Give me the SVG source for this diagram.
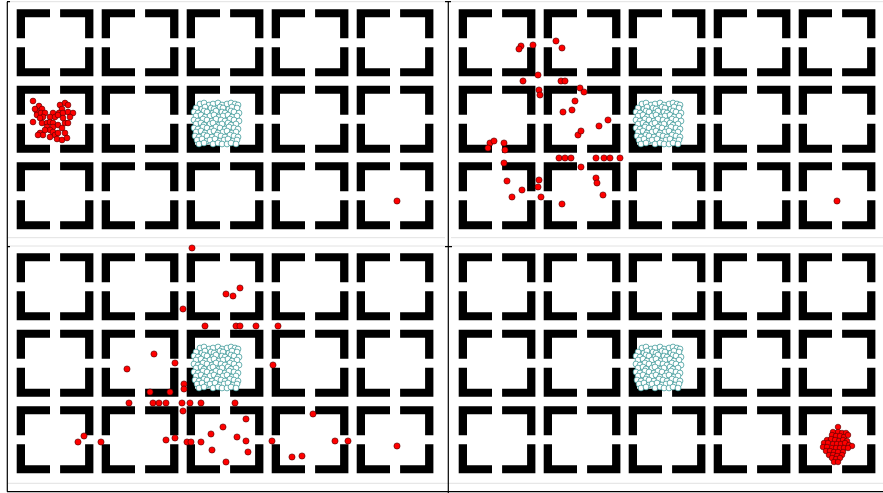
<svg xmlns="http://www.w3.org/2000/svg" xmlns:xlink="http://www.w3.org/1999/xlink" width="883" height="493" viewBox="0 0 883 493">
<style>
.wall{fill:#000}
.r{fill:#f00;stroke:#4a0000;stroke-width:.6}
.c{fill:#fff;stroke:#2b8f8f;stroke-width:.7}
.ax{stroke:#000;stroke-width:1.2;fill:none}
.fr{stroke:#e2e2e2;stroke-width:1;fill:none}
</style>
<defs>
<path id="room" class="wall" d="M0,0H33.3V8H8.3V29H0Z M43.4,0H76.7V29H68.4V8H43.4Z M0,38H8.3V59H33.3V67H0Z M68.4,38H76.7V67H43.4V59H68.4Z"/>
<g id="grid">
<use href="#room" x="16.7" y="9.3"/><use href="#room" x="101.7" y="9.3"/><use href="#room" x="186.7" y="9.3"/><use href="#room" x="271.7" y="9.3"/><use href="#room" x="356.7" y="9.3"/>
<use href="#room" x="16.7" y="85.8"/><use href="#room" x="101.7" y="85.8"/><use href="#room" x="186.7" y="85.8"/><use href="#room" x="271.7" y="85.8"/><use href="#room" x="356.7" y="85.8"/>
<use href="#room" x="16.7" y="162.3"/><use href="#room" x="101.7" y="162.3"/><use href="#room" x="186.7" y="162.3"/><use href="#room" x="271.7" y="162.3"/><use href="#room" x="356.7" y="162.3"/>
</g>
<g id="cyan" class="c">
<circle cx="7" cy="2" r="2.9"/><circle cx="11" cy="1" r="2.9"/><circle cx="16" cy="3" r="2.9"/><circle cx="20" cy="2" r="2.9"/><circle cx="25" cy="1" r="2.9"/><circle cx="29" cy="3" r="2.9"/><circle cx="34" cy="2" r="2.9"/><circle cx="38" cy="1" r="2.9"/><circle cx="42" cy="2" r="2.9"/><circle cx="45" cy="3" r="2.9"/>
<circle cx="3" cy="6" r="2.9"/><circle cx="9" cy="7" r="2.9"/><circle cx="12" cy="5" r="2.9"/><circle cx="18" cy="6" r="2.9"/><circle cx="21" cy="7" r="2.9"/><circle cx="27" cy="5" r="2.9"/><circle cx="30" cy="6" r="2.9"/><circle cx="36" cy="7" r="2.9"/><circle cx="39" cy="5" r="2.9"/><circle cx="44" cy="6" r="2.9"/>
<circle cx="1" cy="10" r="2.9"/><circle cx="5" cy="11" r="2.9"/><circle cx="11" cy="9" r="2.9"/><circle cx="14" cy="10" r="2.9"/><circle cx="20" cy="11" r="2.9"/><circle cx="23" cy="9" r="2.9"/><circle cx="29" cy="10" r="2.9"/><circle cx="32" cy="11" r="2.9"/><circle cx="38" cy="9" r="2.9"/><circle cx="41" cy="10" r="2.9"/><circle cx="46" cy="11" r="2.9"/>
<circle cx="3" cy="14" r="2.9"/><circle cx="8" cy="13" r="2.9"/><circle cx="12" cy="15" r="2.9"/><circle cx="17" cy="14" r="2.9"/><circle cx="21" cy="13" r="2.9"/><circle cx="26" cy="15" r="2.9"/><circle cx="30" cy="14" r="2.9"/><circle cx="35" cy="13" r="2.9"/><circle cx="39" cy="15" r="2.9"/><circle cx="44" cy="14" r="2.9"/>
<circle cx="1" cy="18" r="2.9"/><circle cx="5" cy="19" r="2.9"/><circle cx="10" cy="17" r="2.9"/><circle cx="14" cy="18" r="2.9"/><circle cx="19" cy="19" r="2.9"/><circle cx="23" cy="17" r="2.9"/><circle cx="28" cy="18" r="2.9"/><circle cx="32" cy="19" r="2.9"/><circle cx="37" cy="17" r="2.9"/><circle cx="41" cy="18" r="2.9"/><circle cx="46" cy="19" r="2.9"/>
<circle cx="3" cy="22" r="2.9"/><circle cx="8" cy="21" r="2.9"/><circle cx="11" cy="23" r="2.9"/><circle cx="17" cy="22" r="2.9"/><circle cx="20" cy="21" r="2.9"/><circle cx="26" cy="23" r="2.9"/><circle cx="29" cy="22" r="2.9"/><circle cx="35" cy="21" r="2.9"/><circle cx="38" cy="23" r="2.9"/><circle cx="43" cy="22" r="2.9"/>
<circle cx="1" cy="26" r="2.9"/><circle cx="5" cy="27" r="2.9"/><circle cx="10" cy="25" r="2.9"/><circle cx="14" cy="26" r="2.9"/><circle cx="19" cy="27" r="2.9"/><circle cx="23" cy="25" r="2.9"/><circle cx="27" cy="26" r="2.9"/><circle cx="32" cy="27" r="2.9"/><circle cx="36" cy="25" r="2.9"/><circle cx="41" cy="26" r="2.9"/><circle cx="45" cy="27" r="2.9"/>
<circle cx="3" cy="30" r="2.9"/><circle cx="8" cy="29" r="2.9"/><circle cx="12" cy="31" r="2.9"/><circle cx="17" cy="30" r="2.9"/><circle cx="21" cy="29" r="2.9"/><circle cx="25" cy="31" r="2.9"/><circle cx="30" cy="30" r="2.9"/><circle cx="34" cy="29" r="2.9"/><circle cx="39" cy="31" r="2.9"/><circle cx="43" cy="30" r="2.9"/>
<circle cx="2" cy="34" r="2.9"/><circle cx="6" cy="35" r="2.9"/><circle cx="11" cy="33" r="2.9"/><circle cx="14" cy="34" r="2.9"/><circle cx="19" cy="35" r="2.9"/><circle cx="24" cy="33" r="2.9"/><circle cx="28" cy="34" r="2.9"/><circle cx="32" cy="35" r="2.9"/><circle cx="37" cy="33" r="2.9"/><circle cx="41" cy="34" r="2.9"/><circle cx="45" cy="35" r="2.9"/>
<circle cx="4" cy="38" r="2.9"/><circle cx="9" cy="37" r="2.9"/><circle cx="14" cy="39" r="2.9"/><circle cx="17" cy="38" r="2.9"/><circle cx="22" cy="37" r="2.9"/><circle cx="27" cy="39" r="2.9"/><circle cx="31" cy="38" r="2.9"/><circle cx="35" cy="37" r="2.9"/><circle cx="40" cy="39" r="2.9"/><circle cx="44" cy="38" r="2.9"/>
<circle cx="6" cy="42" r="2.9"/><circle cx="11" cy="41" r="2.9"/><circle cx="20" cy="42" r="2.9"/><circle cx="25" cy="41" r="2.9"/><circle cx="29" cy="42" r="2.9"/><circle cx="34" cy="42" r="2.9"/><circle cx="38" cy="41" r="2.9"/><circle cx="43" cy="42" r="2.9"/>
</g>
</defs>
<rect width="883" height="493" fill="#fff"/>
<g id="frames" class="fr">
<path d="M8,1.7H445 M8,237.7H445 M451,1.7H883 M451,237.7H883 M8,246H883 M8,483.3H883"/>
</g>
<g id="panel-top-left">
<use href="#grid"/>
<use href="#cyan" x="193" y="102"/>
<g class="r">
<circle cx="33" cy="101" r="2.9"/><circle cx="39" cy="106" r="2.9"/><circle cx="42" cy="109" r="2.9"/><circle cx="60" cy="105" r="2.9"/><circle cx="65" cy="103" r="2.9"/><circle cx="68" cy="105" r="2.9"/><circle cx="62" cy="109" r="2.9"/><circle cx="59" cy="113" r="2.9"/><circle cx="53" cy="113" r="2.9"/><circle cx="50" cy="117" r="2.9"/><circle cx="55" cy="117" r="2.9"/><circle cx="58" cy="115" r="2.9"/><circle cx="63" cy="113" r="2.9"/><circle cx="68" cy="112" r="2.9"/><circle cx="73" cy="113" r="2.9"/><circle cx="37" cy="112" r="2.9"/><circle cx="37" cy="115" r="2.9"/><circle cx="41" cy="113" r="2.9"/><circle cx="45" cy="113" r="2.9"/><circle cx="43" cy="117" r="2.9"/><circle cx="33" cy="122" r="2.9"/><circle cx="42" cy="123" r="2.9"/><circle cx="47" cy="123" r="2.9"/><circle cx="50" cy="122" r="2.9"/><circle cx="53" cy="123" r="2.9"/><circle cx="58" cy="125" r="2.9"/><circle cx="65" cy="123" r="2.9"/><circle cx="68" cy="123" r="2.9"/><circle cx="47" cy="127" r="2.9"/><circle cx="53" cy="127" r="2.9"/><circle cx="62" cy="128" r="2.9"/><circle cx="50" cy="130" r="2.9"/><circle cx="53" cy="132" r="2.9"/><circle cx="40" cy="133" r="2.9"/><circle cx="43" cy="135" r="2.9"/><circle cx="38" cy="135" r="2.9"/><circle cx="55" cy="135" r="2.9"/><circle cx="58" cy="133" r="2.9"/><circle cx="65" cy="133" r="2.9"/><circle cx="57" cy="139" r="2.9"/><circle cx="62" cy="140" r="2.9"/><circle cx="67" cy="138" r="2.9"/><circle cx="50" cy="137" r="2.9"/><circle cx="45" cy="130" r="2.9"/><circle cx="35" cy="109" r="2.9"/><circle cx="40" cy="118" r="2.9"/><circle cx="63" cy="118" r="2.9"/><circle cx="70" cy="117" r="2.9"/>
<circle cx="397" cy="201" r="3.1"/>
</g>
</g>
<g id="panel-top-right">
<use href="#grid" x="442"/>
<use href="#cyan" x="635" y="102"/>
<g class="r">
<circle cx="521" cy="46" r="3.1"/><circle cx="533" cy="45" r="3.1"/><circle cx="556" cy="41" r="3.1"/><circle cx="562" cy="48" r="3.1"/><circle cx="519" cy="49" r="3.1"/>
<circle cx="523" cy="81" r="3.1"/><circle cx="538" cy="75" r="3.1"/><circle cx="561" cy="81" r="3.1"/><circle cx="565" cy="81" r="3.1"/><circle cx="580" cy="88" r="3.1"/><circle cx="584" cy="92" r="3.1"/>
<circle cx="539" cy="90" r="3.1"/><circle cx="540" cy="95" r="3.1"/><circle cx="575" cy="101" r="3.1"/><circle cx="563" cy="112" r="3.1"/><circle cx="572" cy="110" r="3.1"/>
<circle cx="608" cy="120" r="3.1"/><circle cx="599" cy="126" r="3.1"/><circle cx="578" cy="135" r="3.1"/><circle cx="581" cy="131" r="3.1"/>
<circle cx="490" cy="143" r="3.1"/><circle cx="494" cy="141" r="3.1"/><circle cx="504" cy="143" r="3.1"/><circle cx="488" cy="148" r="3.1"/><circle cx="505" cy="150" r="3.1"/>
<circle cx="559" cy="158" r="3.1"/><circle cx="565" cy="158" r="3.1"/><circle cx="571" cy="158" r="3.1"/><circle cx="596" cy="158" r="3.1"/><circle cx="604" cy="158" r="3.1"/><circle cx="610" cy="158" r="3.1"/><circle cx="620" cy="158" r="3.1"/>
<circle cx="504" cy="163" r="3.1"/><circle cx="581" cy="167" r="3.1"/><circle cx="539" cy="180" r="3.1"/><circle cx="538" cy="187" r="3.1"/><circle cx="596" cy="178" r="3.1"/><circle cx="597" cy="183" r="3.1"/>
<circle cx="507" cy="181" r="3.1"/><circle cx="522" cy="190" r="3.1"/><circle cx="512" cy="197" r="3.1"/><circle cx="541" cy="197" r="3.1"/><circle cx="562" cy="204" r="3.1"/><circle cx="603" cy="195" r="3.1"/>
<circle cx="837" cy="201" r="3.1"/>
</g>
</g>
<g id="panel-bottom-left">
<use href="#grid" y="244"/>
<use href="#cyan" x="193" y="346"/>
<g class="r">
<circle cx="192" cy="248" r="3.1"/><circle cx="240" cy="288" r="3.1"/><circle cx="226" cy="294" r="3.1"/><circle cx="233" cy="296" r="3.1"/><circle cx="183" cy="309" r="3.1"/>
<circle cx="205" cy="326" r="3.1"/><circle cx="236" cy="326" r="3.1"/><circle cx="240" cy="326" r="3.1"/><circle cx="256" cy="326" r="3.1"/><circle cx="278" cy="326" r="3.1"/>
<circle cx="154" cy="354" r="3.1"/><circle cx="175" cy="363" r="3.1"/><circle cx="127" cy="369" r="3.1"/><circle cx="273" cy="365" r="3.1"/>
<circle cx="184" cy="384" r="3.1"/><circle cx="184" cy="389" r="3.1"/><circle cx="150" cy="392" r="3.1"/><circle cx="170" cy="392" r="3.1"/>
<circle cx="129" cy="403" r="3.1"/><circle cx="153" cy="403" r="3.1"/><circle cx="159" cy="403" r="3.1"/><circle cx="166" cy="403" r="3.1"/><circle cx="182" cy="403" r="3.1"/><circle cx="190" cy="403" r="3.1"/><circle cx="201" cy="403" r="3.1"/><circle cx="235" cy="403" r="3.1"/>
<circle cx="183" cy="411" r="3.1"/><circle cx="313" cy="414" r="3.1"/><circle cx="246" cy="419" r="3.1"/><circle cx="223" cy="427" r="3.1"/><circle cx="211" cy="434" r="3.1"/><circle cx="237" cy="437" r="3.1"/>
<circle cx="84" cy="436" r="3.1"/><circle cx="78" cy="442" r="3.1"/><circle cx="101" cy="442" r="3.1"/><circle cx="166" cy="440" r="3.1"/><circle cx="175" cy="438" r="3.1"/><circle cx="187" cy="442" r="3.1"/><circle cx="191" cy="442" r="3.1"/><circle cx="201" cy="442" r="3.1"/><circle cx="246" cy="441" r="3.1"/><circle cx="272" cy="441" r="3.1"/>
<circle cx="335" cy="441" r="3.1"/><circle cx="348" cy="441" r="3.1"/><circle cx="212" cy="450" r="3.1"/><circle cx="248" cy="452" r="3.1"/><circle cx="292" cy="457" r="3.1"/><circle cx="302" cy="456" r="3.1"/><circle cx="226" cy="462" r="3.1"/>
<circle cx="397" cy="446" r="3.1"/>
</g>
</g>
<g id="panel-bottom-right">
<use href="#grid" x="442" y="244"/>
<use href="#cyan" x="635" y="346"/>
<g class="r">
<circle cx="838" cy="427" r="2.8"/><circle cx="833" cy="432" r="2.8"/><circle cx="838" cy="432" r="2.8"/><circle cx="842" cy="433" r="2.8"/><circle cx="846" cy="433" r="2.8"/>
<circle cx="832" cy="435" r="2.8"/><circle cx="836" cy="436" r="2.8"/><circle cx="840" cy="436" r="2.8"/><circle cx="844" cy="437" r="2.8"/><circle cx="848" cy="435" r="2.8"/>
<circle cx="827" cy="440" r="2.8"/><circle cx="831" cy="439" r="2.8"/><circle cx="835" cy="440" r="2.8"/><circle cx="839" cy="441" r="2.8"/><circle cx="843" cy="440" r="2.8"/><circle cx="847" cy="441" r="2.8"/>
<circle cx="824" cy="443" r="2.8"/><circle cx="828" cy="443" r="2.8"/><circle cx="833" cy="444" r="2.8"/><circle cx="837" cy="444" r="2.8"/><circle cx="841" cy="444" r="2.8"/><circle cx="845" cy="443" r="2.8"/><circle cx="849" cy="445" r="2.8"/><circle cx="852" cy="446" r="2.8"/>
<circle cx="823" cy="447" r="2.8"/><circle cx="827" cy="447" r="2.8"/><circle cx="832" cy="448" r="2.8"/><circle cx="836" cy="448" r="2.8"/><circle cx="840" cy="448" r="2.8"/><circle cx="844" cy="448" r="2.8"/><circle cx="848" cy="448" r="2.8"/>
<circle cx="826" cy="451" r="2.8"/><circle cx="830" cy="451" r="2.8"/><circle cx="834" cy="452" r="2.8"/><circle cx="838" cy="452" r="2.8"/><circle cx="843" cy="452" r="2.8"/>
<circle cx="829" cy="455" r="2.8"/><circle cx="833" cy="455" r="2.8"/><circle cx="837" cy="456" r="2.8"/><circle cx="842" cy="455" r="2.8"/>
<circle cx="832" cy="458" r="2.8"/><circle cx="836" cy="459" r="2.8"/><circle cx="840" cy="458" r="2.8"/><circle cx="834" cy="462" r="2.8"/><circle cx="838" cy="462" r="2.8"/>
</g>
</g>
<g id="axes" class="ax">
<path d="M7.3,1.7V491.7 M448.3,1.7V493 M7,491.7H883 M7,1.7H10 M7,246.7H10 M445,246.7H452 M445,1.7H451"/>
</g>
</svg>
